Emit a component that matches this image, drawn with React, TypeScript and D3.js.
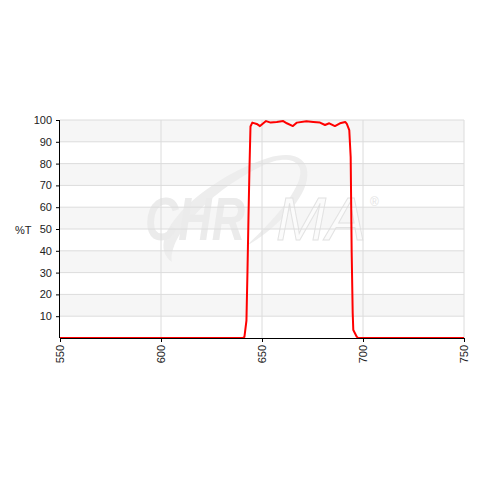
import { useEffect, useRef } from "react";
import * as d3 from "d3";

// wavelength (nm) and %T
const wavelengths = [550, 640.5, 641.3, 642.3, 642.8, 643.3, 643.8, 644.3, 645.2, 647.4, 649, 652, 654.3, 657.3, 660.5, 662.3, 665.3, 667.3, 672, 675.4, 678.7, 681.2, 683.3, 686.1, 688.6, 691.2, 692, 693.2, 693.9, 694.4, 694.9, 695.2, 696.9, 697.5, 750];
const transmission = [0, 0, 0.5, 8, 30, 55, 78, 97, 98.8, 98.2, 97.2, 99.5, 98.8, 99.1, 99.5, 98.5, 97.2, 98.8, 99.4, 99.1, 98.8, 97.7, 98.5, 97.2, 98.5, 99.1, 98.2, 95.4, 83, 39, 11.5, 3.7, 0.6, 0, 0];

const xTicks = [550, 600, 650, 700, 750];
const yTicks = [10, 20, 30, 40, 50, 60, 70, 80, 90, 100];

export default function App() {
  const ref = useRef<SVGSVGElement>(null);

  useEffect(() => {
    const svg = d3.select(ref.current);
    svg.selectAll("*").remove();

    const left = 60, right = 464, top = 120, bottom = 338;
    const x = d3.scaleLinear().domain([550, 750]).range([left, right]);
    const y = d3.scaleLinear().domain([0, 100]).range([bottom, top]);
    const font = "'Liberation Sans', Arial, sans-serif";

    // alternating bands
    const bands = d3.range(0, 100, 10);
    svg.append("g").selectAll("rect").data(bands).join("rect")
      .attr("x", left).attr("width", right - left)
      .attr("y", d => y(d + 10)).attr("height", d => y(d) - y(d + 10))
      .attr("fill", d => (d / 10) % 2 === 1 ? "#f6f6f6" : "#ffffff");

    // watermark
    const wm = svg.append("g").attr("pointer-events", "none");
    wm.append("path")
      .attr("d", "M172,262 C140,238 205,178 268,158 C312,145 318,178 292,208 C274,228 258,240 246,246 C268,226 292,200 299,180 C306,160 286,154 262,166 C212,190 168,235 172,262 Z")
      .attr("fill", "#ededed");
    wm.append("text").attr("x", 145).attr("y", 240)
      .attr("font-family", font).attr("font-weight", "bold").attr("font-style", "italic")
      .attr("font-size", 62).attr("fill", "#ebebeb")
      .attr("textLength", 100).attr("lengthAdjust", "spacingAndGlyphs").text("CHR");
    wm.append("text").attr("x", 276).attr("y", 240)
      .attr("font-family", font).attr("font-style", "italic")
      .attr("font-size", 62).attr("fill", "#fbfbfb").attr("stroke", "#e2e2e2").attr("stroke-width", 1)
      .attr("textLength", 90).attr("lengthAdjust", "spacingAndGlyphs").text("MA");
    wm.append("text").attr("x", 370).attr("y", 206)
      .attr("font-family", font).attr("font-size", 12).attr("fill", "#e4e4e4").text("®");

    // grid
    svg.append("g").selectAll("line").data(yTicks).join("line")
      .attr("x1", left).attr("x2", right).attr("y1", d => y(d)).attr("y2", d => y(d))
      .attr("stroke", "#dcdcdc");
    svg.append("g").selectAll("line").data(xTicks.slice(1)).join("line")
      .attr("y1", top).attr("y2", bottom).attr("x1", d => x(d)).attr("x2", d => x(d))
      .attr("stroke", "#dcdcdc");

    // curve
    const pts = wavelengths.map((w, i) => [w, transmission[i]] as [number, number]);
    svg.append("path").datum(pts)
      .attr("fill", "none").attr("stroke", "#ff0000").attr("stroke-width", 2)
      .attr("stroke-linejoin", "round")
      .attr("d", d3.line<[number, number]>().x(d => x(d[0])).y(d => y(d[1])));

    // axes
    const yAxis = svg.append("g").attr("transform", `translate(${left},0)`)
      .call(d3.axisLeft(y).tickValues(yTicks).tickSize(4).tickPadding(4));
    const xAxis = svg.append("g").attr("transform", `translate(0,${bottom})`)
      .call(d3.axisBottom(x).tickValues(xTicks).tickSize(4));
    [yAxis, xAxis].forEach(g => {
      g.select(".domain").attr("stroke", "#000");
      g.selectAll(".tick line").attr("stroke", "#000");
      g.selectAll("text").attr("font-family", font).attr("font-size", 11).attr("fill", "#222");
    });
    yAxis.select(".domain").attr("d", `M-0.5,${top}V${bottom}`);
    xAxis.select(".domain").attr("d", `M${left},0.5H${right}`);
    xAxis.selectAll(".tick text")
      .attr("transform", "rotate(-90)")
      .attr("text-anchor", "end")
      .attr("x", -7).attr("y", 0).attr("dy", "0.35em");

    svg.append("text").attr("x", 15).attr("y", 234)
      .attr("font-family", font).attr("font-size", 11).attr("fill", "#222").text("%T");
  }, []);

  return (
    <svg ref={ref} width={480} height={480}
      style={{ position: "absolute", left: 0, top: 0, background: "#fff" }} />
  );
}
